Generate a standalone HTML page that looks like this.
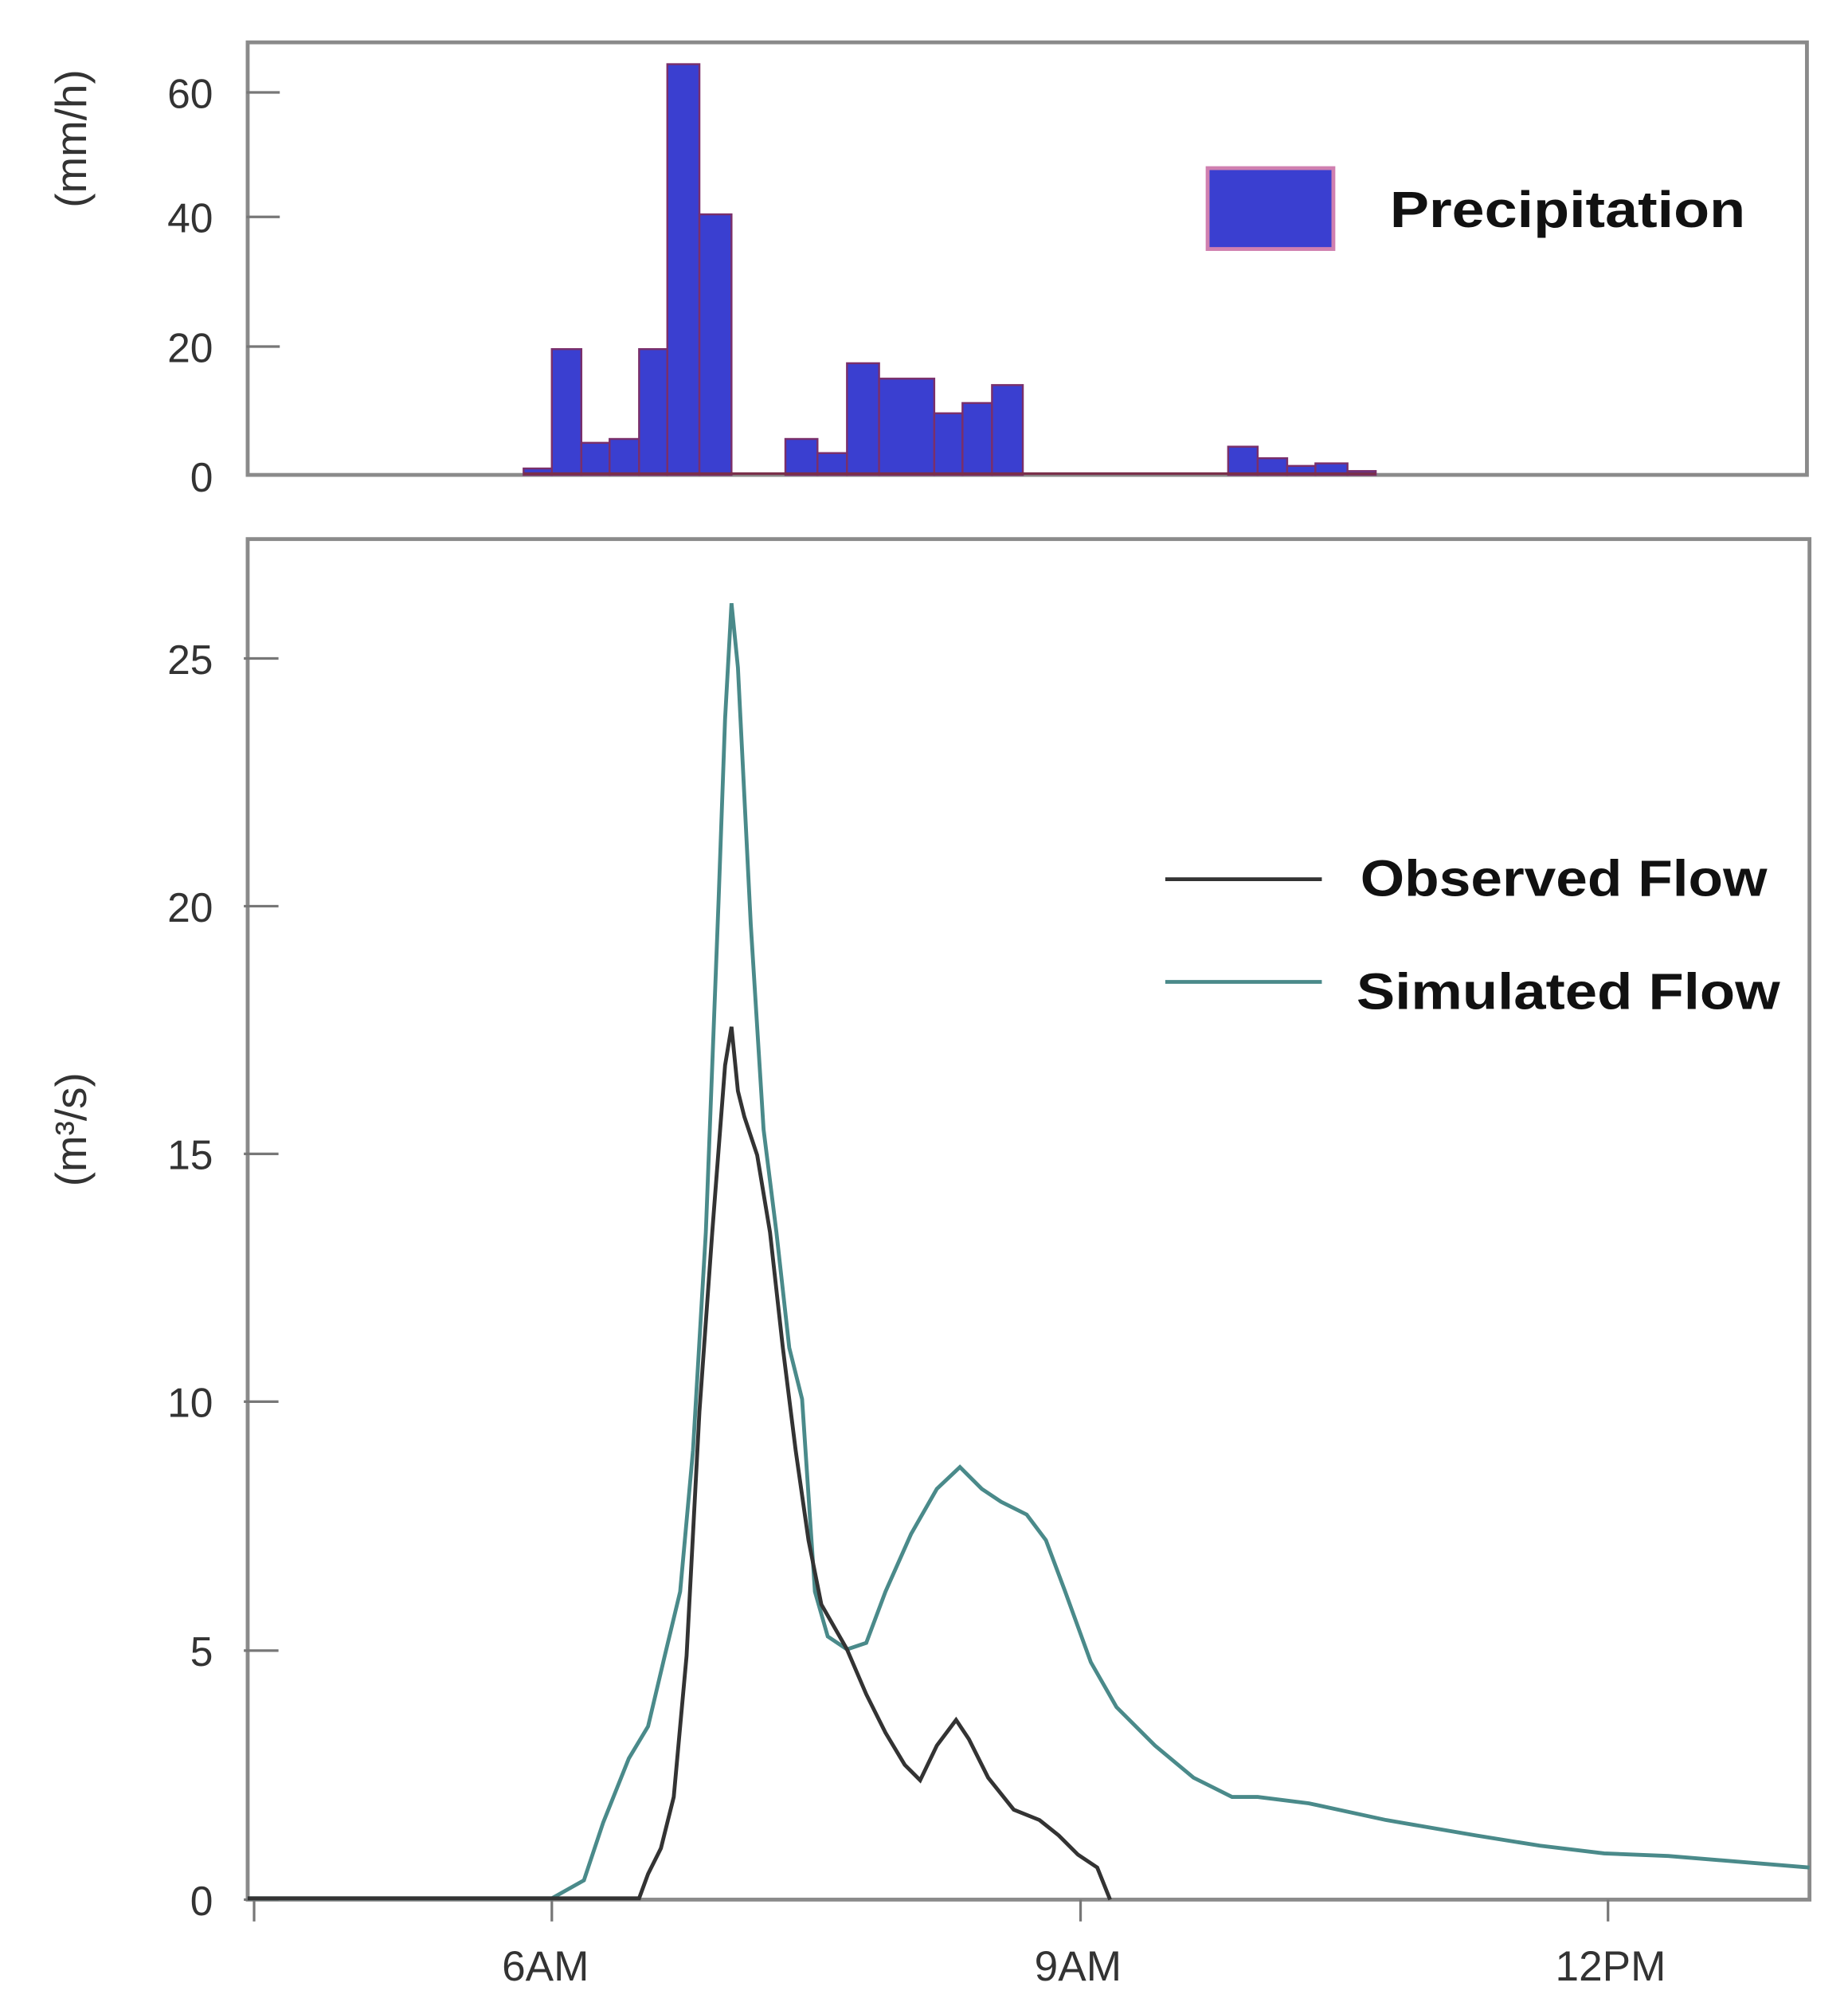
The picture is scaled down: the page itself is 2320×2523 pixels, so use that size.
<!DOCTYPE html>
<html><head><style>html,body{margin:0;padding:0;background:#fff}svg{display:block}</style></head>
<body>
<svg width="2320" height="2523" viewBox="0 0 1440 1566" preserveAspectRatio="none" xmlns="http://www.w3.org/2000/svg" font-family="Liberation Sans, sans-serif">
<rect width="1440" height="1566" fill="#fff"/>
<!-- top panel -->
<rect x="193" y="33" width="1215" height="337" fill="none" stroke="#8a8a8a" stroke-width="3"/>
<g fill="#3a3fd0" stroke="#7a2f6a" stroke-width="1.5">
<rect x="408" y="365" width="22" height="5"/>
<rect x="430" y="272" width="23" height="98"/>
<rect x="453" y="345" width="22" height="25"/>
<rect x="475" y="342" width="23" height="28"/>
<rect x="498" y="272" width="22" height="98"/>
<rect x="520" y="50" width="25" height="320"/>
<rect x="545" y="167" width="25" height="203"/>
<rect x="612" y="342" width="25" height="28"/>
<rect x="637" y="353" width="23" height="17"/>
<rect x="660" y="283" width="25" height="87"/>
<rect x="685" y="295" width="43" height="75"/>
<rect x="728" y="322" width="22" height="48"/>
<rect x="750" y="314" width="23" height="56"/>
<rect x="773" y="300" width="24" height="70"/>
<rect x="957" y="348" width="23" height="22"/>
<rect x="980" y="357" width="23" height="13"/>
<rect x="1003" y="363" width="22" height="7"/>
<rect x="1025" y="361" width="25" height="9"/>
<rect x="1050" y="367" width="22" height="3"/>
</g>
<line x1="408" y1="369" x2="1072" y2="369" stroke="#7a2f4a" stroke-width="2"/>
<g stroke="#777" stroke-width="2">
<line x1="192" y1="72" x2="218" y2="72"/><line x1="192" y1="169" x2="218" y2="169"/><line x1="192" y1="270" x2="218" y2="270"/>
</g>
<g font-size="32" fill="#333" text-anchor="end">
<text x="166" y="84">60</text><text x="166" y="181">40</text><text x="166" y="282">20</text><text x="166" y="383">0</text>
</g>
<text transform="translate(67,108) rotate(-90)" font-size="34" fill="#333" text-anchor="middle">(mm/h)</text>
<rect x="941" y="131" width="98" height="63" fill="#3a3fd0" stroke="#d080b0" stroke-width="3"/>
<text x="1083" y="177" font-size="40" font-weight="bold" fill="#111" textLength="277" lengthAdjust="spacingAndGlyphs">Precipitation</text>
<!-- bottom panel -->
<rect x="193" y="420" width="1217" height="1060" fill="none" stroke="#8a8a8a" stroke-width="3"/>
<g stroke="#777" stroke-width="2">
<line x1="190" y1="513" x2="217" y2="513"/><line x1="190" y1="706" x2="217" y2="706"/><line x1="190" y1="899" x2="217" y2="899"/>
<line x1="190" y1="1092" x2="217" y2="1092"/><line x1="190" y1="1286" x2="217" y2="1286"/><line x1="190" y1="1480" x2="217" y2="1480"/>
<line x1="198" y1="1480" x2="198" y2="1497"/><line x1="430" y1="1480" x2="430" y2="1497"/><line x1="842" y1="1480" x2="842" y2="1497"/><line x1="1253" y1="1480" x2="1253" y2="1497"/>
</g>
<g font-size="32" fill="#333" text-anchor="end">
<text x="166" y="525">25</text><text x="166" y="718">20</text><text x="166" y="911">15</text><text x="166" y="1104">10</text><text x="166" y="1298">5</text><text x="166" y="1492">0</text>
</g>
<g font-size="33" fill="#333" text-anchor="middle">
<text x="425" y="1543">6AM</text><text x="840" y="1543">9AM</text><text x="1255" y="1543">12PM</text>
</g>
<text transform="translate(67,880) rotate(-90)" font-size="34" fill="#333" text-anchor="middle">(m³/s)</text>
<polyline fill="none" stroke="#4a8a8a" stroke-width="3" points="193,1479 430,1479 455,1465 470,1420 490,1370 505,1345 518,1290 530,1240 540,1130 550,960 560,700 565,560 570,470 575,520 585,720 595,880 605,960 615,1050 625,1090 635,1240 645,1275 660,1285 675,1280 690,1240 710,1195 730,1160 748,1143 765,1160 780,1170 800,1180 815,1200 830,1240 850,1295 870,1330 900,1360 930,1385 960,1400 980,1400 1020,1405 1080,1418 1150,1430 1200,1438 1250,1444 1300,1446 1410,1455"/>
<polyline fill="none" stroke="#333" stroke-width="3" points="193,1479 498,1479 505,1460 515,1440 525,1400 535,1290 545,1100 555,960 565,830 570,800 575,850 580,870 590,900 600,960 610,1050 620,1130 630,1200 640,1250 660,1285 675,1320 690,1350 705,1375 717,1387 730,1360 745,1340 755,1355 770,1385 790,1410 810,1418 825,1430 840,1445 855,1455 865,1480"/>
<line x1="908" y1="685" x2="1030" y2="685" stroke="#333" stroke-width="3"/>
<line x1="908" y1="765" x2="1030" y2="765" stroke="#4a8a8a" stroke-width="3"/>
<text x="1060" y="698" font-size="40" font-weight="bold" fill="#111" textLength="317" lengthAdjust="spacingAndGlyphs">Observed Flow</text>
<text x="1057" y="786" font-size="40" font-weight="bold" fill="#111" textLength="330" lengthAdjust="spacingAndGlyphs">Simulated Flow</text>
</svg>
</body></html>
